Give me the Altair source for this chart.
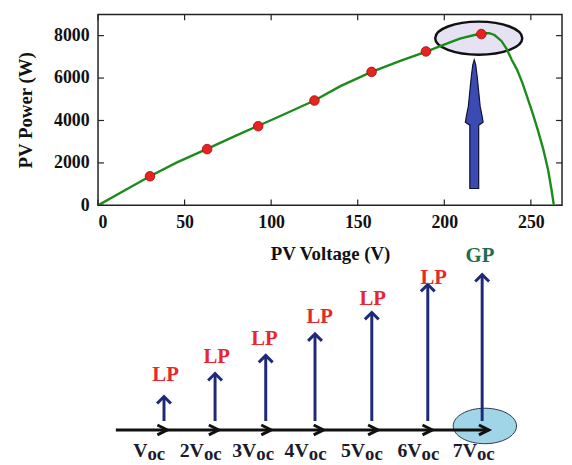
import altair as alt
import pandas as pd

FONT = "Liberation Serif"

# ---------------- PV curve (top panel) ----------------
curve_v = [0, 15, 30, 45, 63, 80, 92, 105, 125, 140, 158, 175, 190, 198, 209, 218, 222, 226,
           229, 233, 236, 239, 242, 245, 248, 251, 254, 257, 260, 262, 263.3]
curve_p = [0, 690, 1370, 2000, 2660, 3300, 3730, 4200, 4940, 5620, 6290, 6820, 7260, 7520, 7860,
           8040, 8110, 8120, 8030, 7750, 7380, 6850, 6400, 5800, 5080, 4350, 3560, 2700, 1650, 700, 0]
dots_v = [30, 63, 92.5, 125, 158, 189.4, 221.4]
dots_p = [1370, 2650, 3730, 4940, 6290, 7254, 8074]

x_ticks = [0, 50, 100, 150, 200, 250]
y_ticks = [0, 2000, 4000, 6000, 8000]
x_domain = [0, 268]
y_domain = [0, 9000]

# annotations on the top panel
gp_ellipse_v = [219.9]
gp_ellipse_p = [7880]
gp_arrow_v = [217.3]
gp_arrow_p = [3824]

# ---------------- scan diagram (bottom panel) ----------------
k_labels = ["V", "2V", "3V", "4V", "5V", "6V", "7V"]
k_label_pos = [0.682, 1.748, 2.738, 3.729, 4.794, 5.86, 6.907]
k_label_y = [-27, -27, -27, -27, -27, -27, -27]
arrow_k = [0.994, 1.959, 2.916, 3.847, 4.92, 5.978, 7.005]
arrow_tip = [33.7, 57, 75.3, 97, 118.7, 147, 157]
arrow_base = [9, 9, 9, 9, 9, 9, 9]
peak_names = ["LP", "LP", "LP", "LP", "LP", "LP", "GP"]
peak_label_k = [1.024, 1.991, 2.893, 3.935, 4.938, 6.09, 6.963]
peak_label_y = [55.3, 73.7, 92, 113.7, 132, 153.7, 176]
axis_line_k = [0.084, 7.13]
axis_head_k = [1.056, 2.028, 3.019, 4.009, 5.037, 6.065, 7.131]
gp_circle_k = [7.056]
gp_circle_y = [4]
diag_x_domain = [-0.2523, 8.514]
diag_y_domain = [227, 420]

W, H = 469, 193


def ellipse_path(r):
    k = 0.5523
    return (f"M 1 0 C 1 {k*r:.4f} {k:.4f} {r} 0 {r} "
            f"C {-k:.4f} {r} -1 {k*r:.4f} -1 0 "
            f"C -1 {-k*r:.4f} {-k:.4f} {-r} 0 {-r} "
            f"C {k:.4f} {-r} 1 {-k*r:.4f} 1 0 Z")


arrow_shape = ("M -0.069 1 L 0.069 1 L 0.069 0.015 L 0.138 -0.031 L 0.123 -0.123 "
               "L 0.092 -0.277 L 0.069 -0.508 L 0.046 -0.738 L 0.023 -0.923 L 0 -1 "
               "L -0.023 -0.923 L -0.046 -0.738 L -0.069 -0.508 L -0.092 -0.277 "
               "L -0.123 -0.123 L -0.138 -0.031 L -0.069 0.015 Z")
up_chevron = "M -1 1 L 0 0 L 1 1"
right_chevron = "M -2 -1 L 0 0 L -2 1"

xs = alt.Scale(domain=x_domain, nice=False, zero=False)
ys = alt.Scale(domain=y_domain, nice=False, zero=False)

df_curve = pd.DataFrame({"v": curve_v, "p": curve_p})
df_dots = pd.DataFrame({"v": dots_v, "p": dots_p})
df_ell = pd.DataFrame({"v": gp_ellipse_v, "p": gp_ellipse_p})
df_arrow = pd.DataFrame({"v": gp_arrow_v, "p": gp_arrow_p})
df_xt_bot = pd.DataFrame({"v": x_ticks, "p": [y_domain[0]] * len(x_ticks)})
df_xt_top = pd.DataFrame({"v": x_ticks, "p": [y_domain[1]] * len(x_ticks)})
df_yt_left = pd.DataFrame({"v": [x_domain[0]] * len(y_ticks), "p": y_ticks})
df_yt_right = pd.DataFrame({"v": [x_domain[1]] * len(y_ticks), "p": y_ticks})

x_enc = alt.X("v:Q", scale=xs, title="PV Voltage (V)",
              axis=alt.Axis(values=x_ticks, format="d", labelPadding=8, titlePadding=14))
y_enc = alt.Y("p:Q", scale=ys, title="PV Power (W)",
              axis=alt.Axis(values=y_ticks, format="d", labelPadding=9, titlePadding=18))

ell = alt.Chart(df_ell).mark_point(
    shape=ellipse_path(0.38), size=7744, filled=True, fill="#e7e2f3",
    stroke="#111111", strokeWidth=2.5, opacity=1
).encode(x=x_enc, y=y_enc)

line = alt.Chart(df_curve).mark_line(color="#1b8c1b", strokeWidth=2.4).encode(
    x=x_enc, y=y_enc)

dots = alt.Chart(df_dots).mark_point(
    shape="circle", size=95, filled=True, fill="#e8231f", stroke="#9a1010",
    strokeWidth=0.8, opacity=1
).encode(x=x_enc, y=y_enc)

arrow = alt.Chart(df_arrow).mark_point(
    shape=arrow_shape, size=16900, filled=True, fill="#3a4cb4", stroke="#111133",
    strokeWidth=1.2, opacity=1
).encode(x=x_enc, y=y_enc)

tick_style = dict(color="#222222", thickness=1.2, size=6, opacity=1)
t_bot = alt.Chart(df_xt_bot).mark_tick(orient="vertical", yOffset=-3, **tick_style).encode(x=x_enc, y=y_enc)
t_top = alt.Chart(df_xt_top).mark_tick(orient="vertical", yOffset=3, **tick_style).encode(x=x_enc, y=y_enc)
t_left = alt.Chart(df_yt_left).mark_tick(orient="horizontal", xOffset=3, **tick_style).encode(x=x_enc, y=y_enc)
t_right = alt.Chart(df_yt_right).mark_tick(orient="horizontal", xOffset=-3, **tick_style).encode(x=x_enc, y=y_enc)

top = alt.layer(ell, line, dots, arrow, t_bot, t_top, t_left, t_right)

# ---------------- bottom diagram layers ----------------
dxs = alt.Scale(domain=diag_x_domain, nice=False, zero=False)
dys = alt.Scale(domain=diag_y_domain, nice=False, zero=False)

df_axis = pd.DataFrame({"k0": [axis_line_k[0]], "k1": [axis_line_k[1]], "y": [0]})
df_heads = pd.DataFrame({"k": axis_head_k, "y": [0] * len(axis_head_k)})
df_arr = pd.DataFrame({"k": arrow_k, "base": arrow_base, "tip": arrow_tip})
df_peaks = pd.DataFrame({"k": peak_label_k, "y": peak_label_y, "name": peak_names})
df_lab = pd.DataFrame({"k": k_label_pos, "y": k_label_y, "main": k_labels,
                       "sub": ["oc"] * len(k_labels)})
df_circ = pd.DataFrame({"k": gp_circle_k, "y": gp_circle_y})

dx = lambda f: alt.X(f, scale=dxs, axis=None)
dy = lambda f: alt.Y(f, scale=dys, axis=None)

circ = alt.Chart(df_circ).mark_point(
    shape=ellipse_path(0.56), size=4096, filled=True, fill="#9fd5e6",
    stroke="#2b3550", strokeWidth=1, opacity=1
).encode(x=dx("k:Q"), y=dy("y:Q"))

axis_line = alt.Chart(df_axis).mark_rule(color="#111111", strokeWidth=3).encode(
    x=dx("k0:Q"), x2="k1:Q", y=dy("y:Q"))

heads = alt.Chart(df_heads).mark_point(
    shape=right_chevron, size=100, filled=False, stroke="#111111", strokeWidth=3, opacity=1
).encode(x=dx("k:Q"), y=dy("y:Q"))

shafts = alt.Chart(df_arr).mark_rule(color="#1e2a78", strokeWidth=3).encode(
    x=dx("k:Q"), y=dy("base:Q"), y2="tip:Q")

tips = alt.Chart(df_arr).mark_point(
    shape=up_chevron, size=196, filled=False, stroke="#1e2a78", strokeWidth=3, opacity=1
).encode(x=dx("k:Q"), y=dy("tip:Q"))

peak_text = alt.Chart(df_peaks).mark_text(
    font=FONT, fontWeight="bold", fontSize=21, baseline="middle", align="center"
).encode(
    x=dx("k:Q"), y=dy("y:Q"), text="name:N",
    color=alt.Color("name:N", scale=alt.Scale(domain=["LP", "GP"], range=["#e8272d", "#1d6e4e"]),
                    legend=None))

main_text = alt.Chart(df_lab).mark_text(
    font=FONT, fontWeight="bold", fontSize=20, baseline="alphabetic", align="right",
    color="#1b1b2e"
).encode(x=dx("k:Q"), y=dy("y:Q"), text="main:N")

sub_text = alt.Chart(df_lab).mark_text(
    font=FONT, fontWeight="bold", fontSize=19, baseline="alphabetic", align="left",
    color="#1b1b2e", dy=3
).encode(x=dx("k:Q"), y=dy("y:Q"), text="sub:N")

diagram = alt.layer(circ, axis_line, heads, shafts, tips, peak_text, main_text, sub_text)

chart = alt.layer(top, diagram).resolve_scale(
    x="independent", y="independent", color="independent"
).properties(
    width=W, height=H, padding={"left": 9, "top": 4, "right": 2, "bottom": 0}
).configure_view(
    stroke="#222222", strokeWidth=1.5
).configure_axis(
    grid=False, domain=False, ticks=False, tickSize=0,
    labelFont=FONT, labelFontWeight="bold", labelFontSize=18, labelColor="#111111",
    titleFont=FONT, titleFontWeight="bold", titleFontSize=19, titleColor="#111111"
)

chart.save("out.html", embed_options={"renderer": "svg", "actions": False})
